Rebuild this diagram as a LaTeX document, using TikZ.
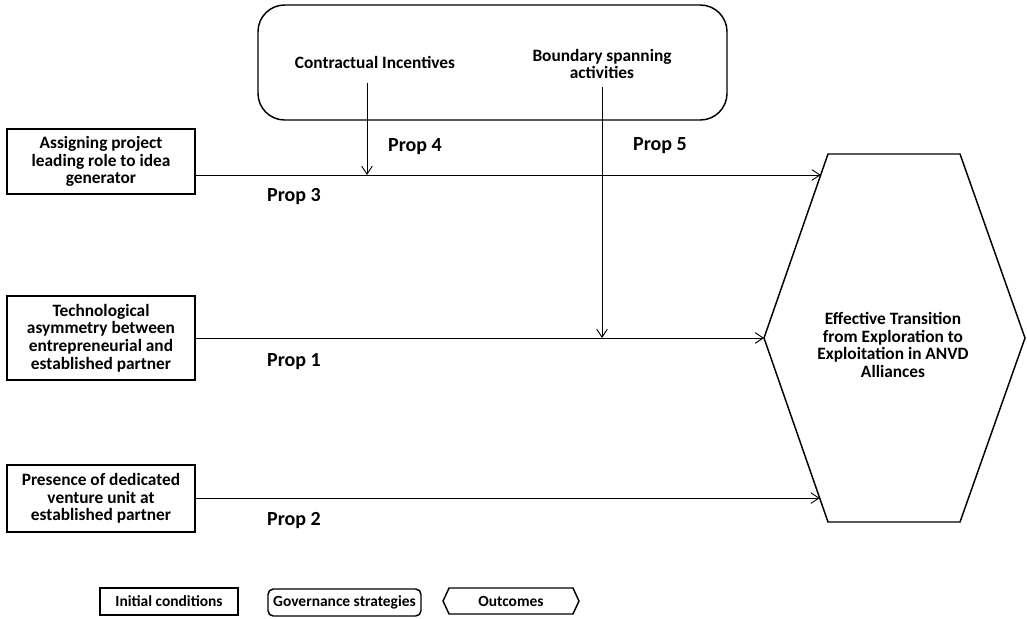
\documentclass[tikz,border=0pt]{standalone}
\usepackage{fontspec}
\setmainfont{Carlito}
\usetikzlibrary{calc,arrows.meta,shapes.symbols}
\newcommand{\boxfont}{\bfseries\fontsize{13}{13.2}\selectfont}
\newcommand{\legfont}{\bfseries\fontsize{11.6}{13}\selectfont}
\newcommand{\propfont}{\bfseries\fontsize{15}{17}\selectfont}

\begin{document}
\begin{tikzpicture}[x=0.75pt,y=-0.75pt,
	initbox/.style={draw, line width=1.1pt, align=center, inner sep=2pt, font=\boxfont},
	govbox/.style={draw, line width=1.1pt, rounded corners=#1},
	govbox/.default=4pt,
	plain/.style={align=center, font=\boxfont},
	legend/.style={font=\legfont},
	proplabel/.style={font=\propfont},
	arr/.style={line width=0.7pt, -{Straight Barb[length=6pt,width=8pt]}}]
	\useasboundingbox (0,0) rectangle (1027,618);

	% governance strategies
	\node[govbox=20pt, minimum width=351.75pt, minimum height=86.25pt] (gov) at (492.5,62.5) {};
	\node[plain] (ci) at (375,62) {Contractual Incentives};
	\node[plain] (bs) at (602,64) {Boundary spanning\\activities};
	\coordinate (ciarr) at (367,83);
	\coordinate (bsarr) at (602,87);

	% initial conditions
	\node[initbox, minimum width=141pt, minimum height=48.75pt] (box1) at (101,161.5) {Assigning project\\leading role to idea\\generator};
	\node[initbox, minimum width=141pt, minimum height=63pt] (box2) at (101,338) {Technological\\asymmetry between\\entrepreneurial and\\established partner};
	\node[initbox, minimum width=141pt, minimum height=50.25pt] (box3) at (101,498.5) {Presence of dedicated\\venture unit at\\established partner};

	% outcome
	\coordinate (HT1) at (828,154);
	\coordinate (HT2) at (960,154);
	\coordinate (HE) at (1025,338);
	\coordinate (HB2) at (960,522);
	\coordinate (HB1) at (828,522);
	\coordinate (HW) at (764,338);
	\draw[line width=1.1pt] (HT1) -- (HT2) -- (HE) -- (HB2) -- (HB1) -- (HW) -- cycle;
	\node[plain] (out) at (893,345) {Effective Transition\\from Exploration to\\Exploitation in ANVD\\Alliances};
	\coordinate (hexin1) at ($(HT1)!0.114!(HW)$);
	\coordinate (hexin3) at ($(HW)!0.87!(HB1)$);

	\draw[arr] (box1.east |- hexin1) -- (hexin1);
	\draw[arr] (box2.east) -- (HW);
	\draw[arr] (box3.east |- hexin3) -- (hexin3);
	\draw[arr] (ciarr) -- (ciarr |- hexin1);
	\draw[arr] (bsarr) -- (bsarr |- HW);

	\node[proplabel] (p4) at (415,147) {Prop 4};
	\node[proplabel] (p5) at (660,146) {Prop 5};
	\node[proplabel] (p3) at (294,197) {Prop 3};
	\node[proplabel] (p1) at (294,362) {Prop 1};
	\node[proplabel] (p2) at (294,521) {Prop 2};

	% legend
	\node[initbox, legend, minimum width=103.5pt, minimum height=20.25pt] (leginit) at (169,601.5) {Initial conditions};
	\node[govbox, legend, minimum width=114.75pt, minimum height=20.25pt] (leggov) at (344.5,602.5) {Governance strategies};
	\node[draw, line width=1.1pt, legend, signal, signal to=west and east, signal pointer angle=130, minimum width=102pt, minimum height=19.5pt] (legout) at (511,601) {Outcomes};
\end{tikzpicture}
\end{document}
